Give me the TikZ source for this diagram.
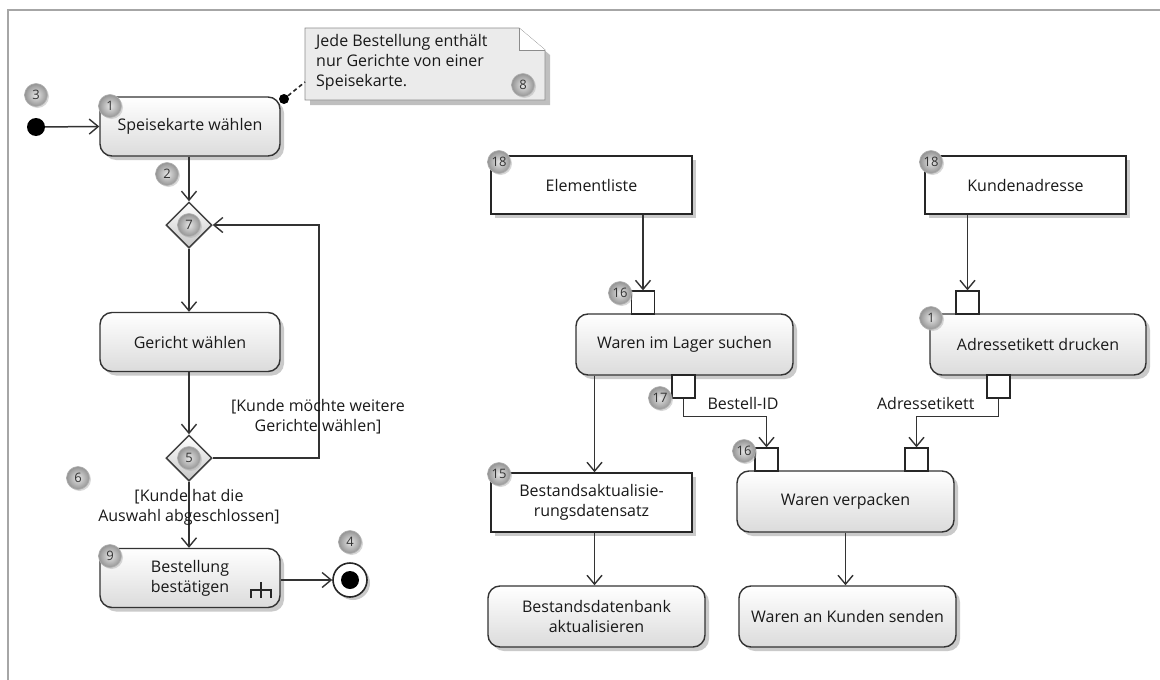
\documentclass[tikz,border=0pt]{standalone}
\usepackage{fontspec}
\setmainfont{Open Sans}
\usetikzlibrary{arrows.meta,shapes.geometric,shadows}

\tikzset{
  action/.style={draw=black!80, line width=1.4pt, rounded corners=12pt, top color=white, bottom color=black!14,
    minimum width=180pt, minimum height=59pt, align=center, inner sep=2pt,
    drop shadow={shadow xshift=4pt, shadow yshift=-4pt, fill=black!35, opacity=.6}},
  objbox/.style={draw=black!85, line width=1.4pt, fill=white, minimum width=201pt, minimum height=58pt, align=center,
    drop shadow={shadow xshift=4pt, shadow yshift=-4pt, fill=black!35, opacity=.6}},
  pinbox/.style={draw=black!85, line width=1.3pt, fill=white, minimum size=23pt, inner sep=0pt},
  badge/.style={circle, draw=black!30, line width=0.6pt, shading=radial, inner color=black!10, outer color=black!42,
    minimum size=23pt, inner sep=0pt, text=black!80, font=\fontsize{13}{13}\selectfont,
    drop shadow={shadow xshift=1.5pt, shadow yshift=-1.5pt, fill=black!30, opacity=.5}},
  decision/.style={diamond, aspect=1, draw=black!75, line width=1.5pt, top color=white, bottom color=black!22, minimum size=46pt, inner sep=0pt},
  flow/.style={draw=black!80, line width=1.5pt, -{Straight Barb[length=9pt,width=15pt,line width=1.4pt]}},
  guard/.style={align=center, text=black!90}
}

\begin{document}
\begin{tikzpicture}[x=1pt, y=-1pt, every node/.style={font=\fontsize{16}{20}\selectfont, text=black!90}]
\useasboundingbox (0,0) rectangle (1160,680);
\draw[black!35, line width=2pt] (8,680) -- (8,10) -- (1160,10);

% note
\fill[black!25] (310,33) -- (524,33) -- (550,55) -- (550,105) -- (310,105) -- cycle;
\draw[black!45, fill=black!8, line width=0.8pt] (305,28) -- (519,28) -- (545,50) -- (545,100) -- (305,100) -- cycle;
\draw[black!45, fill=white, line width=0.8pt] (519,28) -- (519,50) -- (545,50);
\node[anchor=north west, align=left, inner sep=0pt] (note) at (316,34) {Jede Bestellung enthält\\nur Gerichte von einer\\Speisekarte.};
\node[badge] (b8) at (523,85) {8};
\node[circle, fill=black, minimum size=10pt, inner sep=0pt] (notedot) at (284,99) {};
\draw[black!85, line width=1.6pt, dash pattern=on 4pt off 3pt] (notedot) -- (305,82);

% left flow
\node[circle, fill=black, minimum size=18pt, inner sep=0pt] (init) at (36,127) {};
\node[action] (act1) at (190,126.5) {Speisekarte wählen};
\node[decision] (dec7) at (189,225) {};
\node[action] (gericht) at (190,342) {Gericht wählen};
\node[decision] (dec5) at (189,458) {};
\node[action] (act9) at (190,578) {Bestellung\\bestätigen};
\node[circle, draw=black!85, line width=1.6pt, fill=white, minimum size=34pt, inner sep=0pt,
  drop shadow={shadow xshift=3pt, shadow yshift=-3pt, fill=black!35, opacity=.6}] (final) at (350,580) {};
\node[circle, fill=black, minimum size=18pt, inner sep=0pt] (finaldot) at (final) {};

\draw[flow] (init) -- (act1.west);
\draw[flow] (act1.south -| dec7) -- (dec7.north);
\draw[flow] (dec7.south) -- (dec7.south |- gericht.north);
\draw[flow] (gericht.south -| dec5) -- (dec5.north);
\draw[flow] (dec5.east) -- ++(106,0) |- (dec7.east);
\draw[flow] (dec5.south) -- (dec5.south |- act9.north);
\draw[flow] (act9.east |- final) -- (final);

\node[guard] (more) at (318,417) {[Kunde möchte weitere\\Gerichte wählen]};
\node[guard] (done) at (189,507) {[Kunde hat die\\Auswahl abgeschlossen]};

\draw[black!85, line width=1.8pt] (251,598) -- (251,590) -- (271,590) -- (271,598) (261,582) -- (261,598);

\node[badge] (b3) at (36,95) {3};
\node[badge] (b1) at (110,106) {1};
\node[badge] (b2) at (167,174) {2};
\node[badge] (b7) at (dec7) {7};
\node[badge] (b5) at (dec5) {5};
\node[badge] (b6) at (78,478) {6};
\node[badge] (b9) at (110,556) {9};
\node[badge] (b4) at (350,542) {4};

% right flow
\node[objbox] (elem) at (591.5,185) {Elementliste};
\node[objbox] (kunde) at (1025.5,185) {Kundenadresse};
\node[action, minimum width=217pt, minimum height=61pt] (lager) at (684.5,344.5) {Waren im Lager suchen};
\node[action, minimum width=216pt, minimum height=61pt] (etikett) at (1038,344.5) {Adressetikett drucken};
\node[pinbox] (pin16) at (643,302.5) {};
\node[pinbox] (pinkunde) at (967.5,302.5) {};
\node[pinbox] (pin17) at (683.5,386.5) {};
\node[pinbox] (pinetikett) at (998.5,386.5) {};
\node[objbox, minimum height=59pt] (bestand) at (591.5,502.5) {Bestandsaktualisie-\\rungsdatensatz};
\node[action, minimum width=217pt, minimum height=61pt] (verpacken) at (845.5,501.5) {Waren verpacken};
\node[pinbox] (pin16b) at (766.5,459.5) {};
\node[pinbox] (pinadr) at (916.5,459.5) {};
\node[action, minimum width=217pt, minimum height=61pt] (dbank) at (596.5,616.5) {Bestandsdatenbank\\aktualisieren};
\node[action, minimum width=217pt, minimum height=61pt] (senden) at (847.5,616.5) {Waren an Kunden senden};

\draw[flow] (pin16 |- elem.south) -- (pin16.north);
\draw[flow] (pinkunde |- kunde.south) -- (pinkunde.north);
\draw[flow] (pin17.south) -- ++(0,18) -| (pin16b.north);
\draw[flow] (pinetikett.south) -- ++(0,18) -| (pinadr.north);
\draw[flow] ([xshift=3pt]bestand.north |- lager.south) -- ([xshift=3pt]bestand.north);
\draw[flow] ([xshift=3pt]bestand.south) -- ([xshift=3pt]bestand.south |- dbank.north);
\draw[flow] (verpacken.south) -- (verpacken.south |- senden.north);

\node (bestellid) at (743,403) {Bestell-ID};
\node[anchor=east] (adresslabel) at (978,403) {Adressetikett};

\node[badge] (b18a) at (499,162) {18};
\node[badge] (b18b) at (931,162) {18};
\node[badge] (b16) at (620,293) {16};
\node[badge] (b1b) at (931,318) {1};
\node[badge] (b17) at (660,398) {17};
\node[badge] (b16b) at (744,451) {16};
\node[badge] (b15) at (499,474) {15};

\end{tikzpicture}
\end{document}
